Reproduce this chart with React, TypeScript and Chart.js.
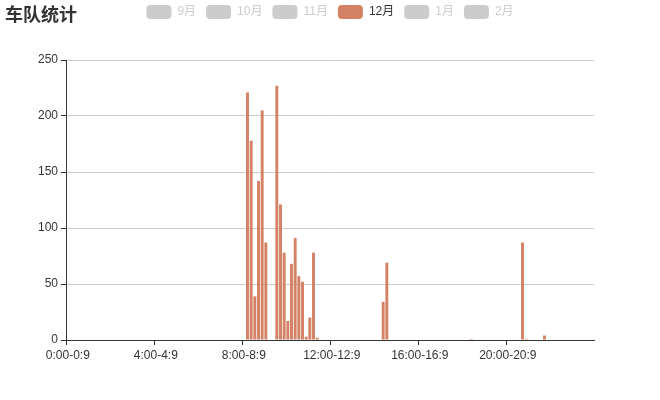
import React, { useEffect, useRef } from "react";
import { Chart, registerables } from "chart.js";

Chart.register(...registerables);

// Time buckets: each hour split into six 10-minute buckets
const hours: number[] = [0, 1, 2, 3, 4, 5, 6, 7, 8, 9, 10, 11, 12, 13, 14, 15, 16, 17, 18, 19, 20, 21, 22, 23];
const tens: number[] = [0, 1, 2, 3, 4, 5];
const categories: string[] = [];
for (const h of hours) {
  for (const t of tens) categories.push(`${h}:${t}0-${h}:${t * 10 + 9}`);
}

const seriesNames = ["9月", "10月", "11月", "12月", "1月", "2月"];
const seriesColors = ["#c23531", "#2f4554", "#61a0a8", "#d48265", "#91c7ae", "#749f83"];
const shownSeries = "12月";

// 12月 values, one row per hour (six 10-minute buckets)
const decValues: number[] = [
  0, 0, 0, 0, 0, 0, // 0
  0, 0, 0, 0, 0, 0, // 1
  0, 0, 0, 0, 0, 0, // 2
  0, 0, 0, 0, 0, 0, // 3
  0, 0, 0, 0, 0, 0, // 4
  0, 0, 0, 0, 0, 0, // 5
  0, 0, 0, 0, 0, 0, // 6
  0, 0, 0, 0, 0, 0, // 7
  0, 221, 178, 39, 142, 205, // 8
  87, 0, 0, 227, 121, 78, // 9
  17, 68, 91, 57, 52, 3, // 10
  20, 78, 2, 0, 0, 0, // 11
  0, 0, 0, 0, 0, 0, // 12
  0, 0, 0, 0, 0, 0, // 13
  0, 0, 34, 69, 0, 0, // 14
  0, 0, 0, 0, 0, 0, // 15
  0, 0, 0, 0, 0, 0, // 16
  0, 0, 0, 0, 0, 0, // 17
  0, 0, 1, 0, 0, 0, // 18
  0, 0, 0, 0, 0, 0, // 19
  0, 0, 0, 0, 87, 1, // 20
  0, 0, 0, 0, 4, 0, // 21
  0, 0, 0, 0, 0, 0, // 22
  0, 0, 0, 0, 0, 0, // 23
];

const yMin = 0;
const yMax = 250;
const yStep = 50;
const labelEvery = 24;

const FONT = "'Liberation Sans', 'Noto Sans CJK SC', sans-serif";

export default function App() {
  const ref = useRef<HTMLCanvasElement | null>(null);

  useEffect(() => {
    if (!ref.current) return;
    const legendHeight = {
      id: "legendHeight",
      beforeInit(chart: any) {
        const legend = chart.legend;
        if (!legend) return;
        const fit = legend.fit;
        legend.fit = function () {
          fit.call(legend);
          this.height = 65;
        };
      },
    };
    const chart = new Chart(ref.current, {
      type: "bar",
      data: {
        labels: categories,
        datasets: seriesNames.map((name, i) => ({
          label: name,
          data: name === shownSeries ? decValues : [],
          hidden: name !== shownSeries,
          backgroundColor: seriesColors[i],
          borderWidth: 0,
          categoryPercentage: 0.8,
          barPercentage: 1.0,
        })),
      },
      options: {
        responsive: false,
        animation: false,
        layout: { padding: { top: -5, left: 0, right: 0, bottom: 0 } },
        plugins: {
          tooltip: { enabled: false },
          title: { display: false },
          legend: {
            display: true,
            position: "top",
            align: "center",
            labels: {
              boxWidth: 25,
              boxHeight: 14,
              padding: 10,
              useBorderRadius: true,
              borderRadius: 4,
              font: { size: 12, family: FONT },
              generateLabels: (c: any) =>
                c.data.datasets.map((ds: any, i: number) => {
                  const on = c.isDatasetVisible(i);
                  return {
                    text: ds.label,
                    fillStyle: on ? seriesColors[i] : "#cccccc",
                    strokeStyle: "rgba(0,0,0,0)",
                    lineWidth: 0,
                    hidden: false,
                    fontColor: on ? "#333333" : "#cccccc",
                    borderRadius: 4,
                    datasetIndex: i,
                  };
                }),
            },
          },
        },
        scales: {
          x: {
            type: "category",
            offset: true,
            afterFit: (s: any) => {
              s.height = 60;
            },
            grid: {
              display: true,
              offset: true,
              drawOnChartArea: false,
              drawTicks: true,
              tickLength: 5,
              tickColor: (ctx: any) => (ctx.index % labelEvery === 0 ? "#333333" : "rgba(0,0,0,0)"),
            },
            border: { display: true, color: "#333333", width: 1 },
            ticks: {
              autoSkip: false,
              maxRotation: 0,
              minRotation: 0,
              padding: 3,
              color: "#333333",
              font: { size: 12, family: FONT },
              callback: (_v: any, i: number) => (i % labelEvery === 0 ? categories[i] : ""),
            },
          },
          y: {
            min: yMin,
            max: yMax,
            afterFit: (s: any) => {
              s.width = 66;
            },
            grid: {
              color: "#cccccc",
              tickColor: "#333333",
              tickLength: 5,
              lineWidth: 1,
            },
            border: { display: true, color: "#333333", width: 1 },
            ticks: {
              stepSize: yStep,
              padding: 3,
              color: "#333333",
              font: { size: 12, family: FONT },
            },
          },
          yRightSpace: {
            type: "linear",
            position: "right",
            min: yMin,
            max: yMax,
            display: true,
            afterFit: (s: any) => {
              s.width = 66;
            },
            grid: { display: false, drawOnChartArea: false, drawTicks: false },
            border: { display: false },
            ticks: { display: false },
          },
        },
      },
      plugins: [legendHeight],
    } as any);
    return () => chart.destroy();
  }, []);

  return (
    <div style={{ position: "absolute", left: 0, top: 0, width: 660, height: 400, background: "#fff" }}>
      <canvas ref={ref} width={660} height={400} style={{ position: "absolute", left: 0, top: 0, width: 660, height: 400 }} />
      <div
        style={{
          position: "absolute",
          left: 5,
          top: 4,
          fontFamily: "'Noto Sans CJK SC', sans-serif",
          fontWeight: "bold",
          fontSize: 18,
          lineHeight: "18px",
          color: "#333",
        }}
      >
        车队统计
      </div>
    </div>
  );
}
